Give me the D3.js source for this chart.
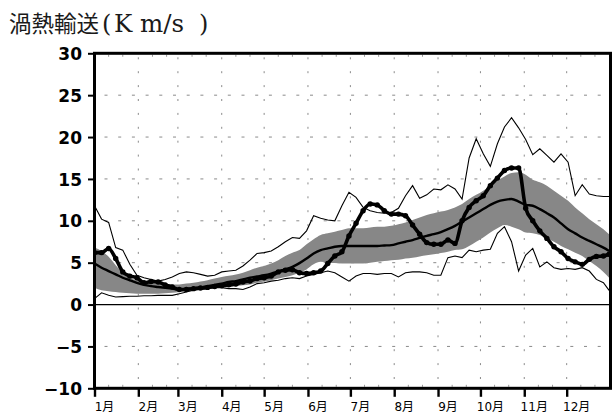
<!DOCTYPE html>
<html>
<head>
<meta charset="utf-8">
<script src="https://cdn.jsdelivr.net/npm/d3@7/dist/d3.min.js"></script>
<style>
  body { margin: 0; background: #fff; }
  svg { display: block; }
</style>
</head>
<body>
<svg id="chart" width="612" height="414"></svg>
<script>
// Day of year (0 = 1 Jan) for each sample
const days = [0,5,10,15,20,25,30,35,40,45,
              50,55,60,65,70,75,80,85,90,95,
              100,105,110,115,120,125,130,135,140,145,
              150,155,160,165,170,175,180,185,190,195,
              200,205,210,215,220,225,230,235,240,245,
              250,255,260,265,270,275,280,285,290,295,
              300,305,310,315,320,325,330,335,340,345,
              350,355,360,364];

// Climatological maximum (thin upper line)
const maxLine = [11.8,10.2,9.8,6.8,6.5,4.8,3.5,3.2,3.0,2.8,
                 3.0,3.3,3.7,3.9,3.8,3.6,3.4,3.5,3.9,4.0,
                 4.1,4.6,5.3,6.1,6.2,6.4,6.9,7.5,8.0,7.9,
                 8.8,10.6,10.3,10.1,10.0,11.8,13.4,12.8,11.6,11.2,
                 11.0,10.9,11.0,11.5,13.0,14.2,12.7,13.1,13.8,13.7,
                 14.3,13.8,12.6,17.5,19.8,18.0,16.5,19.2,21.2,22.3,
                 21.1,19.7,17.9,18.6,17.8,17.0,18.0,17.0,13.0,14.3,
                 13.2,13.0,12.9,12.9];

// Climatological minimum (thin lower line)
const minLine = [0.7,1.4,1.1,0.9,0.95,1.0,1.0,1.05,1.05,1.1,
                 1.1,1.1,1.3,1.5,1.7,1.8,1.9,2.0,2.0,1.9,
                 1.9,1.8,2.1,2.5,2.6,2.8,2.9,3.1,3.2,3.1,
                 3.4,3.6,3.8,4.0,3.8,3.3,2.8,3.4,3.7,3.7,
                 3.6,3.7,3.7,3.3,3.8,3.9,3.9,3.8,3.5,3.5,
                 5.6,5.8,5.6,6.5,6.3,6.5,6.6,8.5,9.3,7.5,
                 4.0,5.9,6.7,4.5,5.1,4.4,4.2,4.3,4.2,4.4,
                 4.0,3.0,2.6,1.7];

// Climatological mean (thick smooth line)
const meanLine = [4.9,4.4,4.0,3.6,3.2,2.9,2.6,2.35,2.2,2.1,
                  2.0,1.9,1.8,1.85,1.95,2.05,2.2,2.35,2.5,2.7,
                  2.8,3.0,3.2,3.35,3.5,3.7,3.95,4.2,4.5,4.95,
                  5.5,6.1,6.5,6.7,6.9,7.0,7.0,7.0,7.0,7.0,
                  7.0,7.05,7.1,7.3,7.5,7.7,7.95,8.2,8.4,8.65,
                  9.0,9.4,9.9,10.4,10.9,11.4,11.9,12.3,12.5,12.6,
                  12.3,11.9,11.8,11.4,10.9,10.4,9.7,9.0,8.5,8.0,
                  7.6,7.2,6.8,6.4];

// Normal range (shaded band), upper and lower edges
const bandHigh = [6.8,6.4,5.7,4.7,3.8,3.2,2.9,2.7,2.6,2.5,
                  2.45,2.4,2.4,2.5,2.6,2.75,2.9,3.1,3.3,3.45,
                  3.6,3.8,4.1,4.4,4.6,4.9,5.3,5.8,6.2,6.5,
                  7.2,7.8,8.3,8.5,8.7,8.9,9.1,9.1,9.1,9.2,
                  9.3,9.3,9.4,9.6,9.8,10.1,10.4,10.7,10.9,11.1,
                  11.3,11.6,12.0,12.6,13.1,13.6,14.2,14.8,15.3,15.7,
                  15.8,15.5,14.9,14.6,14.2,13.6,13.0,12.4,11.6,10.9,
                  10.2,9.6,9.0,8.4];
const bandLow = [2.0,1.7,1.6,1.5,1.4,1.35,1.3,1.3,1.3,1.3,
                 1.35,1.4,1.5,1.6,1.7,1.8,1.9,2.0,2.05,2.1,
                 2.2,2.3,2.4,2.6,2.75,2.9,3.1,3.3,3.5,3.8,
                 4.2,4.8,5.1,5.0,4.95,4.9,4.9,4.9,4.9,5.0,
                 5.1,5.2,5.3,5.35,5.5,5.6,5.75,5.9,6.0,6.15,
                 6.3,6.5,6.6,7.0,7.5,8.0,8.6,9.1,9.5,9.3,
                 9.0,8.6,8.5,8.3,7.9,7.5,7.0,6.6,6.2,5.8,
                 5.2,4.6,3.9,3.2];

// Current year (thick dotted line)
const obsLine = [6.2,6.2,6.7,5.5,3.9,3.4,3.2,2.6,2.75,2.7,
                 2.35,2.1,1.8,1.8,1.9,1.97,2.05,2.15,2.25,2.35,
                 2.45,2.7,2.8,3.1,3.2,3.4,3.9,4.1,4.15,3.8,
                 3.7,3.8,4.0,4.9,5.8,6.3,8.2,9.7,11.2,12.0,
                 11.9,11.2,10.8,10.8,10.6,9.5,8.4,7.4,7.2,7.2,
                 7.7,7.3,10.0,11.6,12.4,13.0,14.2,15.1,16.0,16.3,
                 16.3,11.5,10.0,8.8,7.9,6.9,6.3,5.5,5.1,4.8,
                 5.4,5.75,5.8,6.0];

// Axis ticks and labels
const yTicks = [30,25,20,15,10,5,0,-5,-10];
const yGrid = [25,20,15,10,5,-5];
const monthStarts = [0,31,59,90,120,151,181,212,243,273,304,334];
const monthLabels = ["1月","2月","3月","4月","5月","6月","7月","8月","9月","10月","11月","12月"];
const titleName = "渦熱輸送";
const titleUnit = "K m/s";

(function draw() {
  const svg = d3.select("#chart");
  const mLeft = 94.5, mRight = 610.5, mTop = 53.3, mBottom = 388.3;

  const x = d3.scaleLinear().domain([0, 365]).range([mLeft, mRight]);
  const y = d3.scaleLinear().domain([-10, 30]).range([mBottom, mTop]);

  const series = days.map((d, i) => ({
    d, max: maxLine[i], min: minLine[i], mean: meanLine[i],
    hi: bandHigh[i], lo: bandLow[i], obs: obsLine[i]
  }));

  svg.append("defs").append("clipPath").attr("id", "plotClip")
    .append("rect").attr("x", mLeft).attr("y", mTop)
    .attr("width", mRight - mLeft).attr("height", mBottom - mTop);

  // Title: name, then the unit in parentheses
  const title = svg.append("text")
    .attr("y", 31.5)
    .attr("font-family", "'DejaVu Serif', 'Liberation Serif', serif")
    .attr("fill", "#1a1a1a");
  title.append("tspan").attr("x", 9).attr("font-size", 22.5)
    .attr("font-family", "'Noto Sans CJK JP', sans-serif").text(titleName);
  title.append("tspan").attr("x", 102).attr("font-size", 24).text("(");
  title.append("tspan").attr("x", 114).attr("font-size", 24.5).text(titleUnit);
  title.append("tspan").attr("x", 199).attr("font-size", 24).text(")");

  // Grid lines
  const grid = svg.append("g").attr("stroke", "#8a8a8a").attr("stroke-width", 1)
    .attr("stroke-dasharray", "3,10.7");
  grid.selectAll("line.h").data(yGrid).join("line").attr("class", "h")
    .attr("x1", mLeft + 10).attr("x2", mRight)
    .attr("y1", d => y(d)).attr("y2", d => y(d));
  grid.selectAll("line.v").data(monthStarts.slice(1)).join("line").attr("class", "v")
    .attr("x1", d => x(d)).attr("x2", d => x(d))
    .attr("y1", mTop + 4).attr("y2", mBottom)
    .attr("stroke-dasharray", "2,11.9");

  const plot = svg.append("g").attr("clip-path", "url(#plotClip)");

  // Shaded normal range
  plot.append("path").datum(series)
    .attr("fill", "#878787")
    .attr("d", d3.area().x(p => x(p.d)).y0(p => y(p.lo)).y1(p => y(p.hi))
      .curve(d3.curveMonotoneX));

  // Zero line
  plot.append("line")
    .attr("x1", mLeft).attr("x2", mRight).attr("y1", y(0)).attr("y2", y(0))
    .attr("stroke", "#000").attr("stroke-width", 1.3);

  // Mean
  plot.append("path").datum(series)
    .attr("fill", "none").attr("stroke", "#000").attr("stroke-width", 2.4)
    .attr("d", d3.line().x(p => x(p.d)).y(p => y(p.mean)).curve(d3.curveMonotoneX));

  // Max / min envelope
  ["max", "min"].forEach(k => {
    plot.append("path").datum(series)
      .attr("fill", "none").attr("stroke", "#000").attr("stroke-width", 1.1)
      .attr("d", d3.line().x(p => x(p.d)).y(p => y(p[k])).curve(d3.curveLinear));
  });

  // Current year, with point markers
  plot.append("path").datum(series)
    .attr("fill", "none").attr("stroke", "#000").attr("stroke-width", 3.6)
    .attr("stroke-linejoin", "round")
    .attr("d", d3.line().x(p => x(p.d)).y(p => y(p.obs)).curve(d3.curveMonotoneX));
  plot.selectAll("circle.obs").data(series).join("circle").attr("class", "obs")
    .attr("cx", p => x(p.d)).attr("cy", p => y(p.obs)).attr("r", 2.7).attr("fill", "#000");

  // Left axis
  const yAxis = svg.append("g").attr("transform", `translate(${mLeft},0)`)
    .call(d3.axisLeft(y).tickValues(yTicks).tickSize(6.5).tickPadding(6)
      .tickFormat(d => d < 0 ? "\u2212" + Math.abs(d) : d));
  yAxis.select(".domain").remove();
  yAxis.selectAll(".tick line").attr("stroke", "#000").attr("stroke-width", 2);
  yAxis.selectAll(".tick text")
    .attr("font-family", "'DejaVu Sans', sans-serif").attr("font-size", 17)
    .attr("font-weight", "bold")
    .attr("fill", "#000").attr("dy", "0.36em");

  // Bottom axis
  const xAxis = svg.append("g").attr("transform", `translate(0,${mBottom})`)
    .call(d3.axisBottom(x).tickValues(monthStarts).tickSize(8.5)
      .tickFormat((d, i) => monthLabels[i]));
  xAxis.select(".domain").remove();
  xAxis.selectAll(".tick line").attr("stroke", "#000").attr("stroke-width", 2.4);
  xAxis.selectAll(".tick text")
    .attr("font-family", "'DejaVu Sans', 'Noto Sans CJK JP', sans-serif")
    .attr("font-size", 12).attr("fill", "#000")
    .attr("x", 9.5).attr("y", 0).attr("dy", "22.5");

  // Minor ticks every ten days along the top and bottom edges
  const minorDays = [];
  monthStarts.forEach(m => { minorDays.push(m + 10, m + 20); });
  const minor = svg.append("g").attr("stroke", "#9a9a9a").attr("stroke-width", 1);
  minor.selectAll("line.t").data(minorDays).join("line").attr("class", "t")
    .attr("x1", d => x(d)).attr("x2", d => x(d)).attr("y1", mTop + 1.5).attr("y2", mTop + 3.5);
  minor.selectAll("line.b").data(minorDays).join("line").attr("class", "b")
    .attr("x1", d => x(d)).attr("x2", d => x(d)).attr("y1", mBottom - 3.5).attr("y2", mBottom - 1.5);

  // Frame
  svg.append("rect")
    .attr("x", mLeft).attr("y", mTop).attr("width", mRight - mLeft).attr("height", mBottom - mTop)
    .attr("fill", "none").attr("stroke", "#000").attr("stroke-width", 3);
})();
</script>
</body>
</html>
